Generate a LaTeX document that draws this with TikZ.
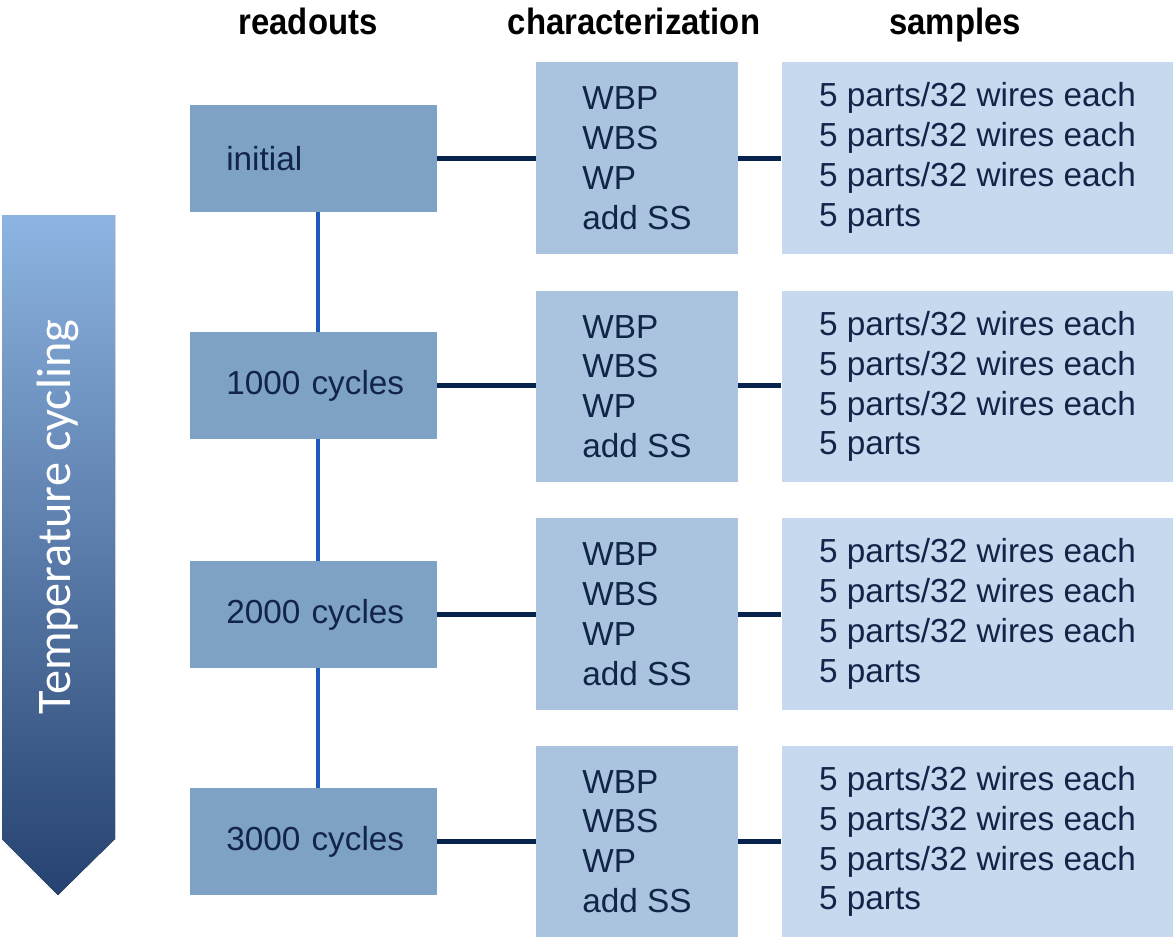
\documentclass[tikz,border=0pt]{standalone}
\usepackage{fontspec}
\usepackage{tikz}
\usetikzlibrary{shapes,arrows,positioning}
\newfontfamily\bodyfont{Liberation Sans}
\newfontfamily\headfont[FakeStretch=0.9]{Liberation Sans}
\newfontfamily\arrowfont{Carlito}
\definecolor{readfill}{RGB}{126,162,198}
\definecolor{charfill}{RGB}{170,196,223}
\definecolor{smplfill}{RGB}{199,217,238}
\definecolor{navytext}{RGB}{18,36,72}
\definecolor{navyline}{RGB}{8,34,78}
\definecolor{blueline}{RGB}{30,90,190}
\tikzstyle{readout} = [rectangle,fill=readfill,inner ysep=0,inner xsep=25.5pt,text width=124pt,align=left,minimum height=75.8pt,text=navytext,font={\bodyfont\fontsize{23.7}{28.35}\selectfont}]
\tikzstyle{charbox} = [rectangle,fill=charfill,inner sep=0,align=left,minimum width=143.2pt,minimum height=136.1pt,text=navytext,font={\bodyfont\fontsize{23.7}{28.35}\selectfont}]
\tikzstyle{smplbox} = [rectangle,fill=smplfill,inner sep=0,align=left,minimum width=278.5pt,minimum height=136.1pt,text=navytext,font={\bodyfont\fontsize{23.7}{28.35}\selectfont}]
\tikzstyle{head} = [anchor=base,inner sep=0,font={\headfont\bfseries\fontsize{26}{30}\selectfont}]
\tikzstyle{link} = [-,navyline,line width=3.2pt]
\tikzstyle{chain} = [-,blueline,line width=2.4pt]
\def \chartext {WBP\\WBS\\WP\\add SS}
\def \smpltext {5 parts/32 wires each\\5 parts/32 wires each\\5 parts/32 wires each\\5 parts}
\def \cx {3.2pt}

\begin{document}
\begin{tikzpicture}[x=0.025cm,y=-0.025cm]
      \useasboundingbox (0,0) rectangle (1174,939);
      \fill[top color={rgb,255:red,141;green,180;blue,226},middle color={rgb,255:red,85;green,142;blue,213},bottom color={rgb,255:red,38;green,66;blue,112}]
        (2,215) -- (115,215) -- (115,839) -- (58,895) -- (2,839) -- cycle;
      \node[rotate=90,text=white,inner sep=0,font={\arrowfont\fontsize{34.3}{40}\selectfont}] (tc) at (58,517) {Temperature cycling};
      \node[head] (hread) at (308,35) {readouts};
      \node[head] (hchar) at (634,35) {characterization};
      \node[head] (hsmpl) at (955,35) {samples};
      \node[readout] (r0) at (313.5,158.5) {\mbox{initial}};
      \node[readout] (r1) at (313.5,385.5) {\mbox{1000 cycles}};
      \node[readout] (r2) at (313.5,614.5) {\mbox{2000 cycles}};
      \node[readout] (r3) at (313.5,841.5) {\mbox{3000 cycles}};
      \node[charbox] (c0) at (637,158) {\chartext};
      \node[charbox] (c1) at (637,386.5) {\chartext};
      \node[charbox] (c2) at (637,614) {\chartext};
      \node[charbox] (c3) at (637,841.5) {\chartext};
      \node[smplbox] (s0) at (977.5,158) {\smpltext};
      \node[smplbox] (s1) at (977.5,386.5) {\smpltext};
      \node[smplbox] (s2) at (977.5,614) {\smpltext};
      \node[smplbox] (s3) at (977.5,841.5) {\smpltext};
      \draw[chain] ([xshift=\cx]r0.south) -- ([xshift=\cx]r1.north);
      \draw[chain] ([xshift=\cx]r1.south) -- ([xshift=\cx]r2.north);
      \draw[chain] ([xshift=\cx]r2.south) -- ([xshift=\cx]r3.north);
      \draw[link] (r0.east) -- (r0.east -| c0.west);
      \draw[link] (r1.east) -- (r1.east -| c1.west);
      \draw[link] (r2.east) -- (r2.east -| c2.west);
      \draw[link] (r3.east) -- (r3.east -| c3.west);
      \draw[link] (c0.east |- r0.east) -- (r0.east -| s0.west);
      \draw[link] (c1.east |- r1.east) -- (r1.east -| s1.west);
      \draw[link] (c2.east |- r2.east) -- (r2.east -| s2.west);
      \draw[link] (c3.east |- r3.east) -- (r3.east -| s3.west);
    \end{tikzpicture}
\end{document}
